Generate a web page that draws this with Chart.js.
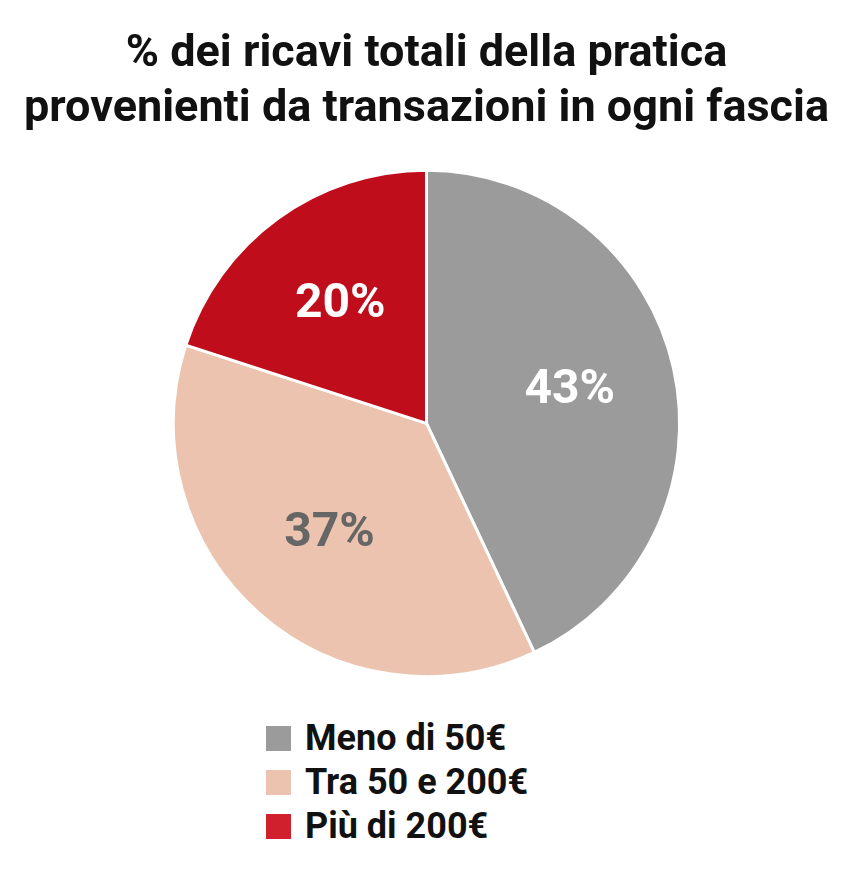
<!DOCTYPE html>
<html>
<head>
<meta charset="utf-8">
<script src="https://cdn.jsdelivr.net/npm/chart.js@4"></script>
<style>
  body { margin: 0; background: #fff; font-family: "Liberation Sans Narrow", Roboto, sans-serif; }
  #wrap { width: 853px; height: 682px; position: relative; }
  #legend { margin: 34px 0 0 266px; padding: 0; list-style: none; }
  #legend li { font-weight: bold; font-size: 36px; height: 44px; display: flex; align-items: center; color: #111; }
  #legend span { width: 25px; height: 25px; display: inline-block; margin-right: 14px; }
</style>
</head>
<body>
<div id="wrap"><canvas id="pie"></canvas></div>
<ul id="legend"></ul>
<script>
const categories = ['Meno di 50€', 'Tra 50 e 200€', 'Più di 200€'];
const values = [43, 37, 20];
const colors = ['#9b9b9b', '#ebc3ae', '#c00d1b'];
const legendColors = ['#9b9b9b', '#ebc3ae', '#d0202e'];
const labelColors = ['#ffffff', '#666666', '#ffffff'];
const fontFam = '"Liberation Sans Narrow", Roboto, sans-serif';

const labelsPlugin = {
  id: 'sliceLabels',
  afterDatasetsDraw(chart) {
    const ctx = chart.ctx;
    chart.getDatasetMeta(0).data.forEach((arc, i) => {
      const mid = (arc.startAngle + arc.endAngle) / 2;
      const r = arc.outerRadius * 0.58;
      const x = arc.x + Math.cos(mid) * r;
      const y = arc.y + Math.sin(mid) * r;
      ctx.save();
      ctx.font = 'bold 48px ' + fontFam;
      ctx.fillStyle = labelColors[i];
      ctx.textAlign = 'center';
      ctx.textBaseline = 'middle';
      ctx.fillText(values[i] + '%', x, y);
      ctx.restore();
    });
  }
};

new Chart(document.getElementById('pie'), {
  type: 'pie',
  data: {
    labels: categories,
    datasets: [{ data: values, backgroundColor: colors, borderColor: '#ffffff', borderWidth: 3 }]
  },
  options: {
    responsive: true,
    maintainAspectRatio: false,
    animation: false,
    layout: { padding: { bottom: 4 } },
    plugins: {
      legend: { display: false },
      tooltip: { enabled: false },
      title: {
        display: true,
        text: ['% dei ricavi totali della pratica', 'provenienti da transazioni in ogni fascia'],
        color: '#111',
        font: { family: fontFam, size: 45, weight: 'bold', lineHeight: 1.22 },
        padding: { top: 27, bottom: 32 }
      }
    }
  },
  plugins: [labelsPlugin]
});

const legend = document.getElementById('legend');
categories.forEach((c, i) => {
  const li = document.createElement('li');
  li.innerHTML = '<span style="background:' + legendColors[i] + '"></span>' + c;
  legend.appendChild(li);
});
</script>
</body>
</html>
